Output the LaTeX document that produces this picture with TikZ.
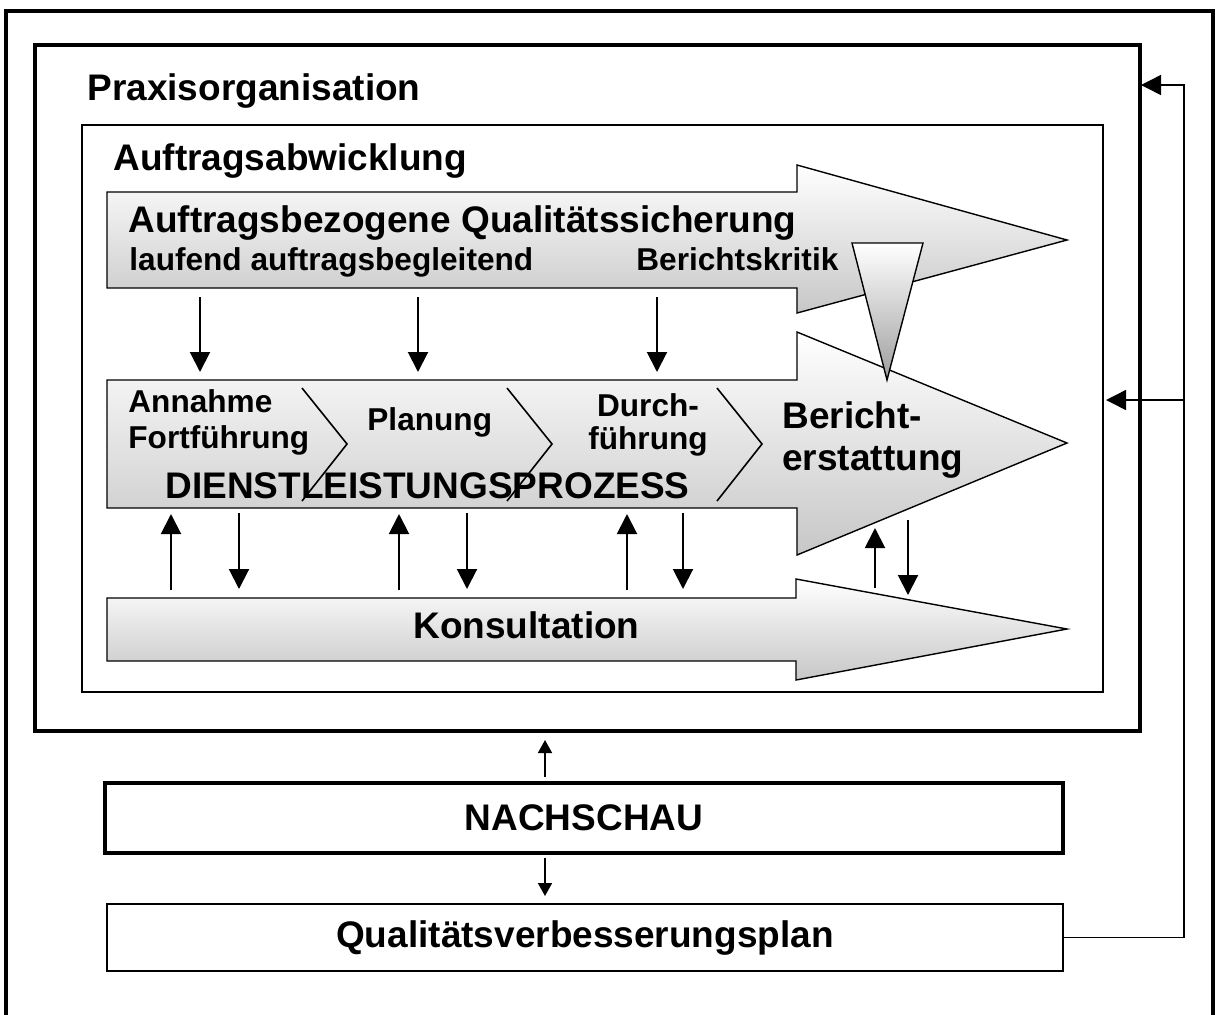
\documentclass[tikz,border=0pt]{standalone}
\usepackage{fontspec}
\setmainfont{Liberation Sans}
\usetikzlibrary{arrows.meta, positioning, calc}

\begin{document}
\begin{tikzpicture}[x=0.5pt, y=-0.5pt,
  bigtxt/.style={font=\fontsize{18.5}{22}\selectfont\bfseries, inner sep=0pt, anchor=base west},
  smalltxt/.style={font=\fontsize{15.8}{18}\selectfont\bfseries, inner sep=0pt, anchor=base west},
  flow/.style={draw=black, line width=0.7pt, top color=white, bottom color=black!22},
  pointer/.style={draw=black, line width=0.7pt, top color=white, bottom color=black!38},
  conn/.style={line width=1pt, -{Triangle[length=10pt, width=10pt]}},
  tinyconn/.style={line width=0.8pt, -{Triangle[length=6.5pt, width=7pt]}},
  feedback/.style={line width=0.75pt, -{Triangle[length=10pt, width=10pt]}},
  chevron/.style={line width=0.8pt},
  heavybox/.style={draw=black, line width=2pt, inner sep=0pt,
                   font=\fontsize{18.5}{22}\selectfont\bfseries},
  lightbox/.style={draw=black, line width=0.8pt, inner sep=0pt,
                   font=\fontsize{18.5}{22}\selectfont\bfseries}
]
  \useasboundingbox (0,0) rectangle (1216,1014);

  % frames
  \draw[line width=1.6pt] (6,11) rectangle (1213,1030);
  \coordinate (praxNW) at (35,45);
  \coordinate (praxSE) at (1140,731);
  \draw[line width=2pt] (praxNW) rectangle (praxSE);
  \coordinate (auftNW) at (82,125);
  \coordinate (auftSE) at (1103,692);
  \draw[line width=0.8pt] (auftNW) rectangle (auftSE);

  \node[bigtxt] (praxis) at (87,100) {Praxisorganisation};
  \node[bigtxt] (auftrag) at (113,170) {Auftragsabwicklung};

  % block arrows
  \draw[flow] (107,192) -- (797,192) -- (797,165) -- (1067,240)
    -- (797,313) -- (797,288) -- (107,288) -- cycle;
  \draw[flow] (107,380) -- (797,380) -- (797,332) -- (1067,443)
    -- (797,555) -- (797,508) -- (107,508) -- cycle;
  \draw[flow] (107,598) -- (796,598) -- (796,579) -- (1067,629)
    -- (796,680) -- (796,661) -- (107,661) -- cycle;
  \draw[pointer] (852,243) -- (923,243) -- (887,380) -- cycle;

  % process steps
  \foreach \x in {302,507,717}
    \draw[chevron] (\x,388) -- (\x+45,444) -- (\x,501);

  \node[bigtxt] (qstitle) at (128,232) {Auftragsbezogene Qualitätssicherung};
  \node[smalltxt] (qslauf) at (129,270) {laufend auftragsbegleitend};
  \node[smalltxt] (qskritik) at (636,270) {Berichtskritik};

  \node[smalltxt] (annahme) at (128,412) {Annahme};
  \node[smalltxt] (fortf) at (128,448) {Fortführung};
  \node[smalltxt] (planung) at (367,430) {Planung};
  \node[smalltxt, anchor=base] (durch) at (648,416) {Durch-};
  \node[smalltxt, anchor=base] (fuehr) at (648,449) {führung};
  \node[bigtxt] (bericht) at (782,428) {Bericht-};
  \node[bigtxt] (erstatt) at (782,470) {erstattung};
  \node[bigtxt] (dlp) at (165,498) {DIENSTLEISTUNGSPROZESS};
  \node[bigtxt] (konsult) at (413,638) {Konsultation};

  % quality assurance into the process
  \foreach \x [count=\i] in {200,418,657} {
    \coordinate (qsd\i) at (\x,297);
    \coordinate (dlp\i) at (\x,372);
    \draw[conn] (qsd\i) -- (dlp\i);
  }

  % process <-> consultation
  \foreach \u/\d [count=\i] in {171/239, 399/467, 627/683} {
    \coordinate (kup\i) at (\u,590);
    \coordinate (pup\i) at (\u,514);
    \coordinate (pdn\i) at (\d,513);
    \coordinate (kdn\i) at (\d,589);
    \draw[conn] (kup\i) -- (pup\i);
    \draw[conn] (pdn\i) -- (kdn\i);
  }
  \coordinate (kup4) at (875,588);
  \coordinate (pup4) at (875,528);
  \coordinate (pdn4) at (908,520);
  \coordinate (kdn4) at (908,595);
  \draw[conn] (kup4) -- (pup4);
  \draw[conn] (pdn4) -- (kdn4);

  % review
  \node[heavybox, minimum width=479pt, minimum height=35pt] (nachschau) at (584,818) {NACHSCHAU};
  \node[lightbox, minimum width=478pt, minimum height=33.5pt] (plan) at (585,937.5) {Qualitätsverbesserungsplan};

  \coordinate (nsUp) at (545,777);
  \coordinate (praxIn) at (545,740);
  \draw[tinyconn] (nsUp) -- (praxIn);
  \coordinate (nsDn) at (545,858);
  \coordinate (planIn) at (545,896);
  \draw[tinyconn] (nsDn) -- (planIn);

  % feedback loop
  \coordinate (fbTop) at (1184,85);
  \coordinate (fbMid) at (1184,400);
  \coordinate (praxTip) at (1141,85);
  \coordinate (auftTip) at (1106,400);
  \draw[feedback] (plan.east) -| (fbTop) -- (praxTip);
  \draw[feedback] (fbMid) -- (auftTip);
\end{tikzpicture}
\end{document}
